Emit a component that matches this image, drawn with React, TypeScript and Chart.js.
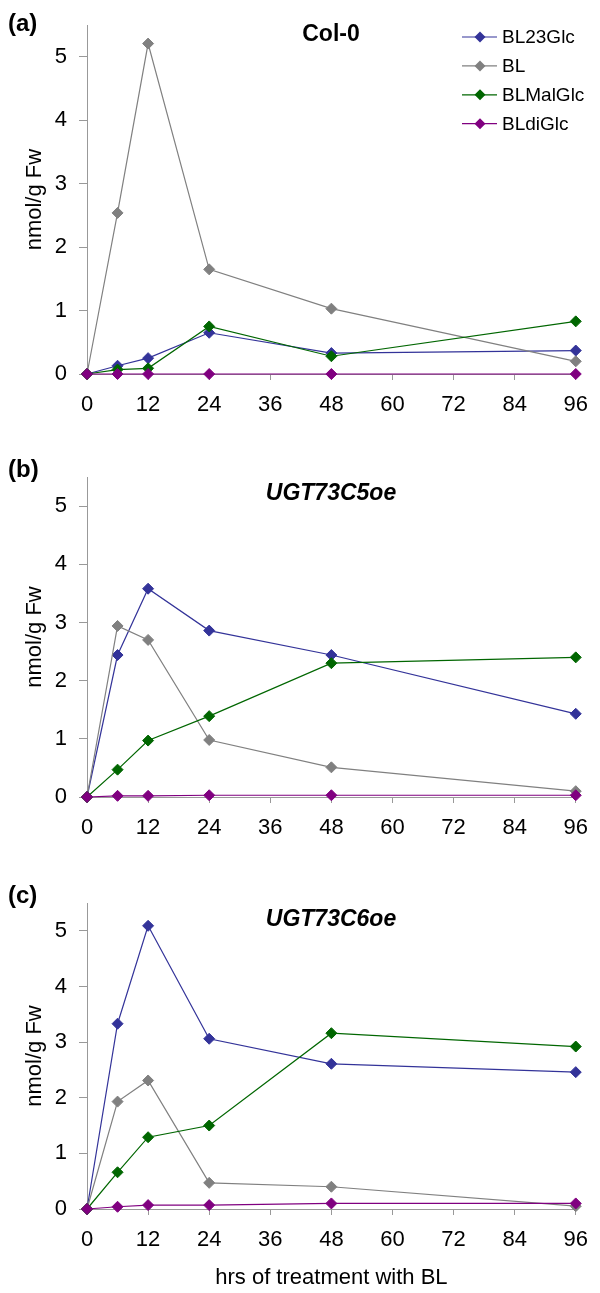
import React, { useEffect, useRef } from "react";
import { Chart, registerables } from "chart.js";

Chart.register(...registerables);

// ---------- data ----------
const hours = [0, 6, 12, 24, 48, 96];
const xTickValues = [0, 12, 24, 36, 48, 60, 72, 84, 96];
const yTickValues = [0, 1, 2, 3, 4, 5];
const seriesNames = ["BL23Glc", "BL", "BLMalGlc", "BLdiGlc"];
const seriesColors = ["#333399", "#808080", "#006600", "#800080"];

const colBL23Glc = [0, 0.13, 0.25, 0.65, 0.33, 0.37];
const colBL = [0, 2.54, 5.21, 1.65, 1.03, 0.2];
const colBLMalGlc = [0, 0.07, 0.09, 0.75, 0.28, 0.83];
const colBLdiGlc = [0, 0, 0, 0, 0, 0];

const c5BL23Glc = [0, 2.44, 3.58, 2.86, 2.44, 1.43];
const c5BL = [0, 2.94, 2.7, 0.98, 0.51, 0.1];
const c5BLMalGlc = [0, 0.47, 0.97, 1.39, 2.3, 2.4];
const c5BLdiGlc = [0, 0.02, 0.02, 0.03, 0.03, 0.03];

const c6BL23Glc = [0, 3.33, 5.09, 3.06, 2.61, 2.46];
const c6BL = [0, 1.93, 2.31, 0.47, 0.4, 0.05];
const c6BLMalGlc = [0, 0.66, 1.29, 1.5, 3.16, 2.92];
const c6BLdiGlc = [0, 0.04, 0.07, 0.07, 0.1, 0.1];

const yAxisTitle = "nmol/g Fw";
const xAxisTitle = "hrs of treatment with BL";

// ---------- layout ----------
const FONT = '"Liberation Sans", Arial, Helvetica, sans-serif';

type Panel = {
  label: string;
  title: string;
  italic: boolean;
  series: number[][];
  top: number;
  height: number;
  plotTop: number;
  plotBottom: number;
  plotRight: number;
  legend: boolean;
  xTitle: boolean;
  labelY: number;
  titleY: number;
};

const panels: Panel[] = [
  {
    label: "(a)", title: "Col-0", italic: false,
    series: [colBL23Glc, colBL, colBLMalGlc, colBLdiGlc],
    top: 0, height: 430, plotTop: 25, plotBottom: 374, plotRight: 584,
    legend: true, xTitle: false, labelY: 24, titleY: 35,
  },
  {
    label: "(b)", title: "UGT73C5oe", italic: true,
    series: [c5BL23Glc, c5BL, c5BLMalGlc, c5BLdiGlc],
    top: 430, height: 425, plotTop: 47, plotBottom: 367, plotRight: 584,
    legend: false, xTitle: false, labelY: 40, titleY: 64,
  },
  {
    label: "(c)", title: "UGT73C6oe", italic: true,
    series: [c6BL23Glc, c6BL, c6BLMalGlc, c6BLdiGlc],
    top: 855, height: 438, plotTop: 48, plotBottom: 354, plotRight: 578,
    legend: false, xTitle: true, labelY: 41, titleY: 65,
  },
];

const PLOT_LEFT = 87;
const POINT_R = 5.5;

const decorPlugin = {
  id: "panelDecor",
  afterDraw(chart: any, _args: any, opts: any) {
    const ctx = chart.ctx as CanvasRenderingContext2D;
    ctx.save();
    ctx.fillStyle = "#000";
    ctx.textBaseline = "middle";
    ctx.textAlign = "left";
    ctx.font = `bold 24px ${FONT}`;
    ctx.fillText(opts.label, 8, opts.labelY);
    ctx.textAlign = "center";
    ctx.font = `${opts.italic ? "italic " : ""}bold 23px ${FONT}`;
    ctx.fillText(opts.title, 331, opts.titleY);
    if (opts.legend) {
      const ds = chart.data.datasets;
      ds.forEach((d: any, i: number) => {
        const y = 37 + i * 28.9;
        ctx.strokeStyle = d.borderColor;
        ctx.lineWidth = 1.2;
        ctx.beginPath();
        ctx.moveTo(462, y);
        ctx.lineTo(497, y);
        ctx.stroke();
        ctx.fillStyle = d.borderColor;
        ctx.beginPath();
        ctx.moveTo(480 - POINT_R, y);
        ctx.lineTo(480, y - POINT_R);
        ctx.lineTo(480 + POINT_R, y);
        ctx.lineTo(480, y + POINT_R);
        ctx.closePath();
        ctx.fill();
        ctx.fillStyle = "#000";
        ctx.textAlign = "left";
        ctx.font = `19px ${FONT}`;
        ctx.fillText(d.label, 502, y + 1);
      });
    }
    ctx.restore();
  },
};

function PanelChart({ p }: { p: Panel }) {
  const ref = useRef<HTMLCanvasElement | null>(null);
  useEffect(() => {
    if (!ref.current) return;
    const datasets = seriesNames.map((name, i) => ({
      label: name,
      data: hours.map((h, j) => ({ x: h, y: p.series[i][j] })),
      borderColor: seriesColors[i],
      backgroundColor: seriesColors[i],
      pointBackgroundColor: seriesColors[i],
      pointBorderColor: seriesColors[i],
      pointStyle: "rectRot",
      pointRadius: POINT_R,
      pointBorderWidth: 1,
      borderWidth: 1.2,
      tension: 0,
      clip: false,
      order: seriesNames.length - i,
    }));
    const chart = new Chart(ref.current, {
      type: "line",
      data: { datasets },
      plugins: [decorPlugin],
      options: {
        animation: false,
        responsive: false,
        maintainAspectRatio: false,
        layout: {
          padding: { top: p.plotTop, right: 600 - p.plotRight, left: 0, bottom: 0 },
        },
        plugins: {
          legend: { display: false },
          tooltip: { enabled: false },
          title: { display: false },
          panelDecor: {
            label: p.label, title: p.title, italic: p.italic,
            legend: p.legend, labelY: p.labelY, titleY: p.titleY,
          },
        } as any,
        scales: {
          x: {
            type: "linear",
            min: 0,
            max: 96,
            afterBuildTicks: (s: any) => {
              s.ticks = xTickValues.map((v) => ({ value: v }));
            },
            afterFit: (s: any) => {
              s.height = p.height - p.plotBottom;
            },
            ticks: {
              autoSkip: false,
              maxRotation: 0,
              color: "#000",
              padding: 12,
              font: { family: FONT, size: 22 },
            },
            grid: {
              drawOnChartArea: false,
              drawTicks: true,
              tickLength: 6,
              color: "#999",
            },
            border: { display: true, color: "#999", width: 1 },
            title: {
              display: p.xTitle,
              text: xAxisTitle,
              color: "#000",
              font: { family: FONT, size: 22 },
              padding: { top: 0, bottom: 2 },
            },
          },
          y: {
            type: "linear",
            min: 0,
            max: 5.5,
            afterBuildTicks: (s: any) => {
              s.ticks = yTickValues.map((v) => ({ value: v }));
            },
            afterFit: (s: any) => {
              s.width = PLOT_LEFT;
            },
            ticks: {
              color: "#000",
              padding: 12,
              font: { family: FONT, size: 22 },
            },
            grid: {
              drawOnChartArea: false,
              drawTicks: true,
              tickLength: 8,
              color: "#999",
            },
            border: { display: true, color: "#999", width: 1 },
            title: {
              display: true,
              text: yAxisTitle,
              color: "#000",
              font: { family: FONT, size: 22 },
              padding: { top: 22, bottom: 0 },
            },
          },
        },
      } as any,
    });
    return () => chart.destroy();
  }, [p]);
  return (
    <canvas
      ref={ref}
      width={600}
      height={p.height}
      style={{ position: "absolute", left: 0, top: p.top, width: 600, height: p.height, display: "block" }}
    />
  );
}

export default function App() {
  return (
    <div style={{ position: "absolute", left: 0, top: 0, width: 600, height: 1293, background: "#fff" }}>
      {panels.map((p) => (
        <PanelChart key={p.label} p={p} />
      ))}
    </div>
  );
}
